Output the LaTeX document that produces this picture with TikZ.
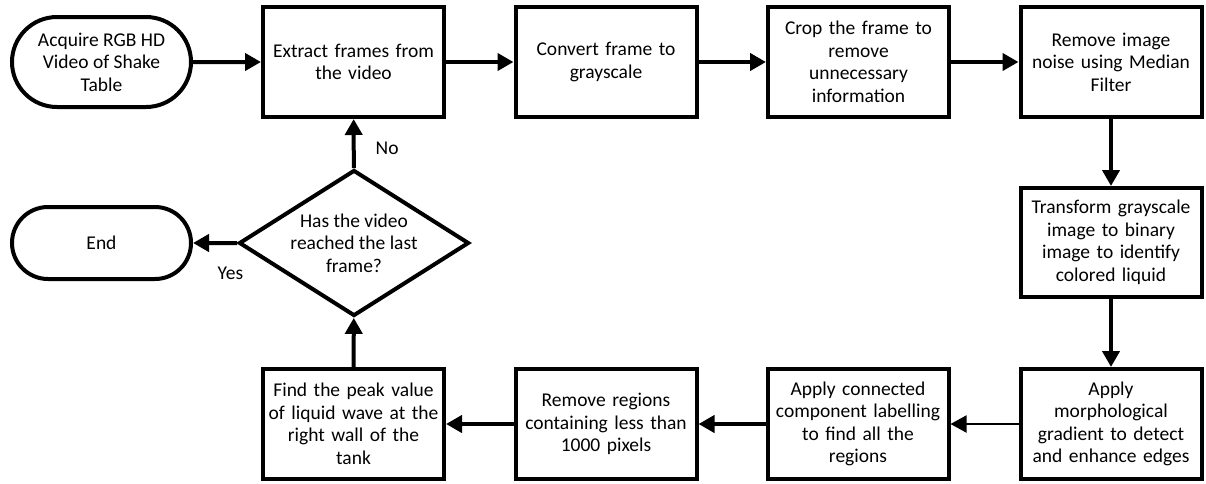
\documentclass[tikz,border=0pt]{standalone}
\usepackage{fontspec}
\setmainfont{Carlito}
\usetikzlibrary{arrows.meta,shapes.geometric,shapes.misc}

\begin{document}
\begin{tikzpicture}[x=1pt, y=-1pt, font=\fontsize{19.5}{22.5}\selectfont,
  every node/.style={align=center, inner sep=2pt},
  proc/.style={draw, line width=4pt, minimum width=181pt, minimum height=110pt, text width=176pt},
  term/.style={draw, line width=4pt, rounded rectangle, minimum width=183pt},
  decide/.style={draw, line width=4pt, diamond, aspect=1.57, minimum width=230pt, minimum height=146pt, inner sep=0pt},
  flow/.style={line width=4pt, -{Triangle[length=16pt,width=17pt]}},
  thinflow/.style={line width=2pt, -{Triangle[length=16pt,width=17pt]}}]
\useasboundingbox (0,0) rectangle (1206,483);
% top row
\node[term, minimum height=90pt] (start) at (101.5,62) {Acquire RGB HD\\Video of Shake\\Table};
\node[proc] (extract) at (353.5,62) {Extract frames from\\the video};
\node[proc] (convert) at (606,62) {Convert frame to\\grayscale};
\node[proc] (crop) at (858.5,62) {Crop the frame to\\remove\\unnecessary\\information};
\node[proc] (noise) at (1111,62) {Remove image\\noise using Median\\Filter};
% right column
\node[proc, minimum height=109pt] (binary) at (1111,242.5) {Transform grayscale\\image to binary\\image to identify\\colored liquid};
% bottom row
\node[proc] (morph) at (1111,424) {Apply\\morphological\\gradient to detect\\and enhance edges};
\node[proc] (label) at (858,424) {Apply connected\\component labelling\\to find all the\\regions};
\node[proc] (regions) at (606,424) {Remove regions\\containing less than\\1000 pixels};
\node[proc] (peak) at (353.5,424) {Find the peak value\\of liquid wave at the\\right wall of the\\tank};
% loop
\node[decide] (last) at (354,243) {Has the video\\reached the last\\frame?};
\node[term, minimum height=72pt] (end) at (101.5,243) {End};

\draw[flow] (start) -- (extract);
\draw[flow] (extract) -- (convert);
\draw[flow] (convert) -- (crop);
\draw[flow] (crop) -- (noise);
\draw[flow] (noise) -- (binary);
\draw[flow] (binary) -- (morph);
\draw[thinflow] (morph) -- (label);
\draw[flow] (label) -- (regions);
\draw[flow] (regions) -- (peak);
\draw[flow] (peak) -- (last);
\draw[flow] (last) -- node[right=18pt, pos=0.4] {No} (extract);
\draw[flow] (last) -- node[below=20pt, pos=0.15] {Yes} (end);
\end{tikzpicture}
\end{document}
